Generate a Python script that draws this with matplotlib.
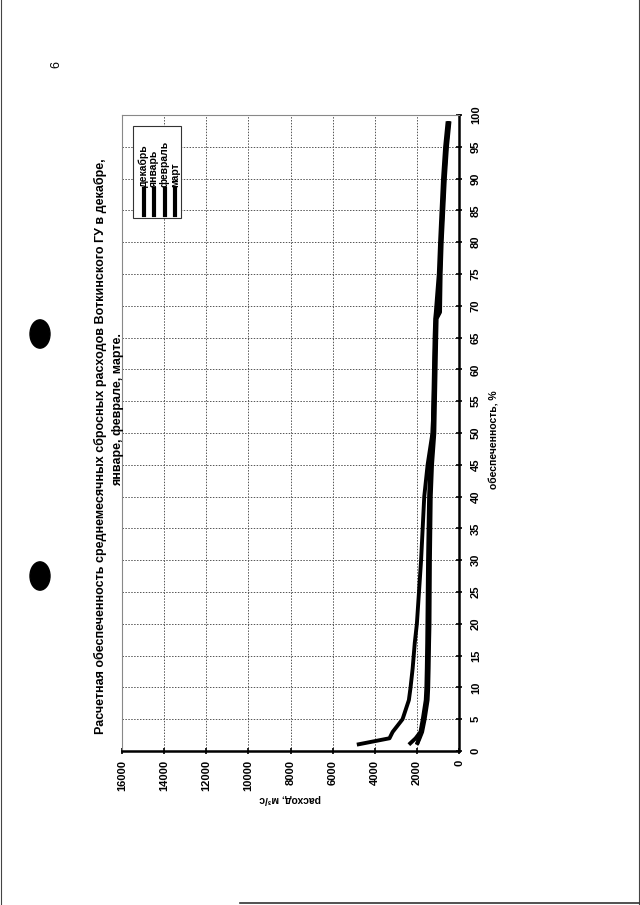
import matplotlib
matplotlib.use("Agg")
import matplotlib.pyplot as plt
from matplotlib.lines import Line2D
from matplotlib.patches import Circle, Rectangle

plt.rcParams['font.family'] = ['Liberation Sans', 'DejaVu Sans']

# Data (обеспеченность %, расход м3/с)
percent = [1, 2, 3, 5, 8, 10, 13, 17, 20, 30, 40, 45, 50, 55, 60, 65, 68, 69, 75, 80, 90, 95, 99]
dec = [4850, 3300, 3150, 2680, 2380, 2300, 2200, 2100, 2000, 1800, 1650, 1490, 1260, 1200, 1170, 1130, 1100, 950, 900, 850, 700, 600, 480]
jan = [2380, 2060, 1830, 1720, 1580, 1550, 1530, 1510, 1500, 1470, 1420, 1360, 1250, 1220, 1190, 1160, 1130, 1100, 960, 900, 760, 660, 540]
feb = [2000, 1900, 1790, 1670, 1530, 1500, 1480, 1460, 1450, 1420, 1380, 1320, 1210, 1180, 1150, 1120, 1090, 940, 910, 860, 710, 610, 490]
mar = [2000, 1870, 1750, 1630, 1490, 1460, 1440, 1420, 1400, 1380, 1340, 1280, 1170, 1140, 1110, 1080, 1060, 900, 870, 820, 670, 570, 450]
series = [("декабрь", dec), ("январь", jan), ("февраль", feb), ("март", mar)]

flow_ticks = [0, 2000, 4000, 6000, 8000, 10000, 12000, 14000, 16000]
pct_ticks = list(range(0, 101, 5))

title1 = "Расчетная обеспеченность среднемесячных сбросных расходов Воткинского ГУ в декабре,"
title2 = "январе, феврале, марте."
xlabel = "расход, м³/с"
ylabel = "обеспеченность, %"

W, H = 640, 905
fig = plt.figure(figsize=(W / 100, H / 100), dpi=100)
fig.patch.set_facecolor("white")

def fx(x):
    return x / W

def fy(y):
    return 1 - y / H

left, right, top, bottom = 122, 459, 115, 751
ax = fig.add_axes([fx(left), fy(bottom), (right - left) / W, (bottom - top) / H])
ax.set_xlim(16000, 0)
ax.set_ylim(0, 100)

for name, vals in series:
    ax.plot(vals, percent, color="black", lw=2.8, solid_capstyle="butt")

ax.set_xticks(flow_ticks)
ax.set_yticks(pct_ticks)
ax.grid(True, color="#555555", linestyle=(0, (1.5, 1.5)), lw=0.7)
ax.yaxis.tick_right()
ax.tick_params(axis="both", direction="inout", length=5, width=1.2, colors="black")
ax.set_xticklabels([str(v) for v in flow_ticks], rotation=90, fontsize=8, fontweight="bold")
ax.set_yticklabels([str(v) for v in pct_ticks], rotation=90, fontsize=8, fontweight="bold", va="center")
ax.tick_params(axis="y", pad=6)
ax.tick_params(axis="x", pad=4)

for s in ["top", "left"]:
    ax.spines[s].set_color("#888888")
    ax.spines[s].set_linewidth(0.8)
for s in ["bottom", "right"]:
    ax.spines[s].set_color("black")
    ax.spines[s].set_linewidth(1.8)

# axis labels
fig.text(fx(290), fy(799), xlabel, rotation=180, ha="center", va="center", fontsize=7.5, fontweight="bold")
fig.text(fx(494), fy(440), ylabel, rotation=90, ha="center", va="center", fontsize=7.5, fontweight="bold")

# title
fig.text(fx(100), fy(446), title1, rotation=90, ha="center", va="center", fontsize=9, fontweight="bold")
fig.text(fx(118), fy(410), title2, rotation=90, ha="center", va="center", fontsize=9, fontweight="bold")

# legend (rotated, drawn manually in axes fraction)
lx0, lx1, ly0, ly1 = 133, 181, 126, 218
ax_l = lambda x: (x - left) / (right - left)
ax_t = lambda y: (bottom - y) / (bottom - top)
ax.add_patch(Rectangle((ax_l(lx0), ax_t(ly1)), ax_l(lx1) - ax_l(lx0), ax_t(ly0) - ax_t(ly1),
                       transform=ax.transAxes, facecolor="white", edgecolor="#333333", lw=0.8, zorder=5))
for i, (name, vals) in enumerate(series):
    cx = 143.5 + i * 10.5
    ax.add_line(Line2D([ax_l(cx), ax_l(cx)], [ax_t(215), ax_t(189)], transform=ax.transAxes,
                       color="black", lw=3.0, zorder=6))
    ax.text(ax_l(cx), ax_t(187), name, transform=ax.transAxes, rotation=90, ha="center", va="bottom",
            fontsize=7.5, fontweight="bold", zorder=6)

# page decorations
fig.text(fx(56), fy(65), "6", rotation=90, ha="center", va="center", fontsize=9)
for cy in (334, 576):
    fig.patches.append(Circle((fx(40), fy(cy)), 10 / W, transform=fig.transFigure, color="black"))
fig.add_artist(Line2D([fx(1), fx(1)], [0, 1], color="#444444", lw=0.8))
fig.add_artist(Line2D([fx(638.5), fx(638.5)], [0, 1], color="#444444", lw=0.8))
fig.add_artist(Line2D([fx(240), fx(640)], [fy(903), fy(903)], color="#333333", lw=1.2))

fig.savefig("out.png", dpi=100)
